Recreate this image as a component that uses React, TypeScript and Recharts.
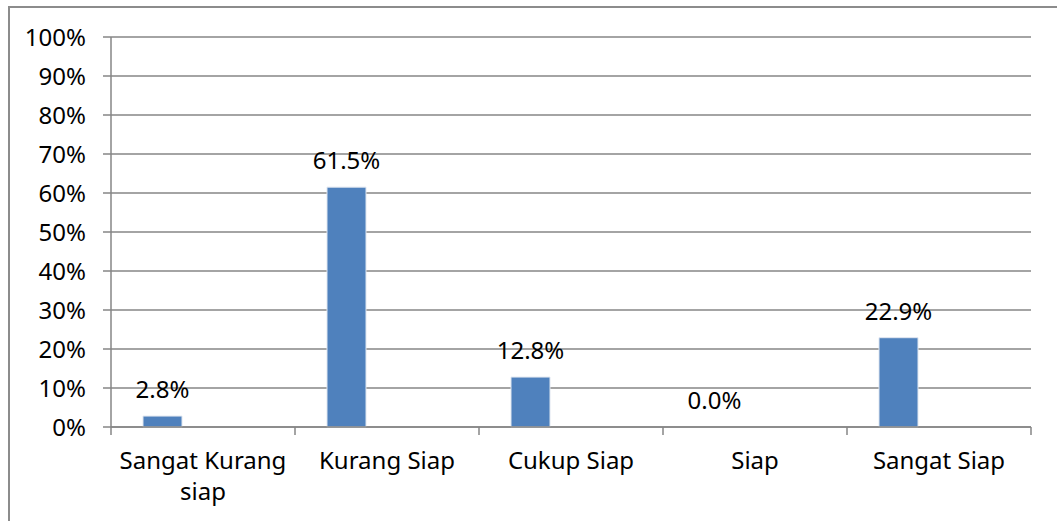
import React from 'react';
import {
  BarChart,
  Bar,
  Cell,
  XAxis,
  YAxis,
  CartesianGrid,
  LabelList,
} from 'recharts';

const categories = ['Sangat Kurang siap', 'Kurang Siap', 'Cukup Siap', 'Siap', 'Sangat Siap'];
const percentValues = [0.028, 0.615, 0.128, 0.0, 0.229];
const emptySeries = [null, null, null, null, null];
const yTicks = [0, 0.1, 0.2, 0.3, 0.4, 0.5, 0.6, 0.7, 0.8, 0.9, 1];

const data = categories.map((name, i) => ({
  name,
  value: percentValues[i],
  empty: emptySeries[i],
}));

const FONT = '"Noto Sans", sans-serif';
const FONT_SIZE = 24;
const GRID = '#868686';
const MAX_CHARS = 14;

// break a label into lines of at most MAX_CHARS characters at spaces
const wrapLabel = (label: string) => {
  const lines: string[] = [];
  let current = '';
  label.split(' ').forEach((word) => {
    const next = current ? `${current} ${word}` : word;
    if (next.length > MAX_CHARS && current) {
      lines.push(current);
      current = word;
    } else {
      current = next;
    }
  });
  if (current) lines.push(current);
  return lines;
};

const CategoryTick = (props: any) => {
  const { x, y, payload, index, visibleTicksCount } = props;
  const half = payload?.offset ?? 0;
  const axisY = y - 25;
  const lines = wrapLabel(String(payload.value));
  return (
    <g>
      {half > 0 && (
        <line x1={x - half} x2={x - half} y1={axisY} y2={axisY + 8} stroke={GRID} strokeWidth={1.5} />
      )}
      {half > 0 && index === visibleTicksCount - 1 && (
        <line x1={x + half} x2={x + half} y1={axisY} y2={axisY + 8} stroke={GRID} strokeWidth={1.5} />
      )}
      <text x={x} y={y} textAnchor="middle" fontSize={FONT_SIZE} fontFamily={FONT} fill="#000">
        {lines.map((line, i) => (
          <tspan key={i} x={x} dy={i === 0 ? '0.71em' : 31}>
            {line}
          </tspan>
        ))}
      </text>
    </g>
  );
};

export default function App() {
  return (
    <div
      style={{
        position: 'absolute',
        left: 0,
        top: 0,
        width: 1057,
        height: 521,
        background: '#fff',
        overflow: 'hidden',
      }}
    >
      <div
        style={{
          position: 'absolute',
          left: 8,
          top: 6,
          width: 1100,
          height: 600,
          borderLeft: '2px solid #8c8c8c',
          borderTop: '2px solid #8c8c8c',
        }}
      />
      <div style={{ position: 'absolute', left: 0, top: 0 }}>
        <BarChart
          width={1057}
          height={521}
          data={data}
          margin={{ top: 37, right: 26, bottom: 34, left: 0 }}
          barGap={42}
        >
          <CartesianGrid vertical={false} stroke={GRID} strokeWidth={1.5} />
          <XAxis
            dataKey="name"
            height={60}
            axisLine={{ stroke: GRID, strokeWidth: 1.5 }}
            tickLine={false}
            tickSize={8}
            tickMargin={17}
            interval={0}
            tick={<CategoryTick />}
          />
          <YAxis
            width={111}
            domain={[0, 1]}
            ticks={yTicks}
            interval={0}
            tickFormatter={(v: number) => `${Math.round(v * 100)}%`}
            axisLine={{ stroke: GRID, strokeWidth: 1.5 }}
            tickLine={{ stroke: GRID, strokeWidth: 1.5 }}
            tickSize={8}
            tickMargin={17}
            tick={{ fill: '#000', fontSize: FONT_SIZE, fontFamily: FONT }}
          />
          <Bar
            dataKey="value"
            barSize={39}
            fill="#4F81BD"
            strokeWidth={1}
            minPointSize={0.01}
            isAnimationActive={false}
          >
            {data.map((d) => (
              <Cell key={d.name} stroke={d.value > 0 ? '#dfe6f0' : 'none'} />
            ))}
            <LabelList
              dataKey="value"
              position="top"
              offset={18}
              formatter={(v: any) => `${(Number(v) * 100).toFixed(1)}%`}
              style={{ fill: '#000', fontSize: FONT_SIZE, fontFamily: FONT }}
            />
          </Bar>
          <Bar dataKey="empty" barSize={39} fill="#C0504D" isAnimationActive={false} />
        </BarChart>
      </div>
    </div>
  );
}
